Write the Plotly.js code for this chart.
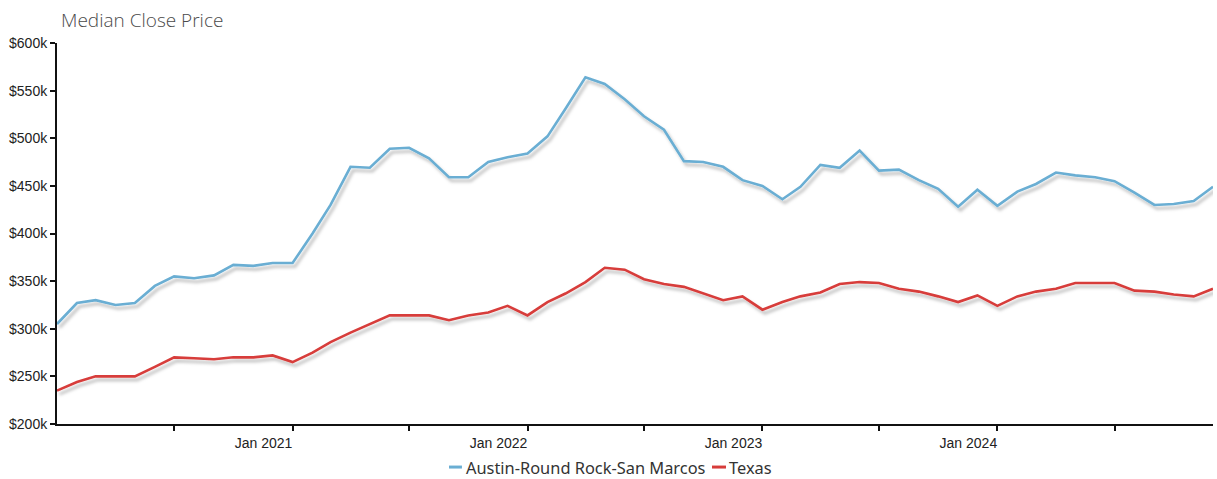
<!DOCTYPE html>
<html>
<head>
<meta charset="utf-8">
<script src="https://cdn.plot.ly/plotly-3.0.1.min.js"></script>
<style>
  html, body { margin: 0; padding: 0; background: #fff; }
  #chart { width: 1217px; height: 479px; }
</style>
</head>
<body>
<svg width="0" height="0" style="position:absolute">
  <defs>
    <!-- soft drop shadow under each price line -->
    <filter id="lineShadow" x="-5%" y="-20%" width="110%" height="140%">
      <feDropShadow dx="2.5" dy="3.5" stdDeviation="1.8" flood-color="#000" flood-opacity="0.26"/>
    </filter>
  </defs>
</svg>
<div id="chart"></div>
<script>
// Monthly dates, Jan 2020 – Dec 2024
const months = [
  "2020-01-01","2020-02-01","2020-03-01","2020-04-01","2020-05-01","2020-06-01",
  "2020-07-01","2020-08-01","2020-09-01","2020-10-01","2020-11-01","2020-12-01",
  "2021-01-01","2021-02-01","2021-03-01","2021-04-01","2021-05-01","2021-06-01",
  "2021-07-01","2021-08-01","2021-09-01","2021-10-01","2021-11-01","2021-12-01",
  "2022-01-01","2022-02-01","2022-03-01","2022-04-01","2022-05-01","2022-06-01",
  "2022-07-01","2022-08-01","2022-09-01","2022-10-01","2022-11-01","2022-12-01",
  "2023-01-01","2023-02-01","2023-03-01","2023-04-01","2023-05-01","2023-06-01",
  "2023-07-01","2023-08-01","2023-09-01","2023-10-01","2023-11-01","2023-12-01",
  "2024-01-01","2024-02-01","2024-03-01","2024-04-01","2024-05-01","2024-06-01",
  "2024-07-01","2024-08-01","2024-09-01","2024-10-01","2024-11-01","2024-12-01"
];

// Median close price, thousands of dollars
const austinPrice = [
  305, 327, 330, 325, 327, 345, 355, 353, 356, 367, 366, 369,
  369, 400, 430, 470, 469, 489, 490, 479, 459, 459, 475, 480,
  484, 502, 531, 564, 557, 541, 523, 509, 476, 475, 470, 456,
  450, 436, 449, 472, 469, 487, 466, 467, 456, 447, 428, 446,
  429, 444, 452, 464, 461, 459, 455, 443, 430, 431, 434, 449
];
const texasPrice = [
  235, 244, 250, 250, 250, 260, 270, 269, 268, 270, 270, 272,
  265, 275, 286, 296, 305, 314, 314, 314, 309, 314, 317, 324,
  314, 328, 337, 349, 364, 362, 352, 347, 344, 337, 330, 334,
  320, 328, 334, 338, 347, 349, 348, 342, 339, 334, 328, 335,
  324, 334, 339, 342, 348, 348, 348, 340, 339, 336, 334, 342
];

const seriesNames = ["Austin-Round Rock-San Marcos", "Texas"];
const seriesColors = ["#6aaed3", "#d73c3a"];

// Half-year ticks, labelled on each January
const tickDates = ["2020-07-01","2021-01-01","2021-07-01","2022-01-01","2022-07-01",
                   "2023-01-01","2023-07-01","2024-01-01","2024-07-01"];
const tickLabels = ["","Jan 2021","","Jan 2022","","Jan 2023","","Jan 2024",""];
const priceTicks = [200, 250, 300, 350, 400, 450, 500, 550, 600];
const priceLabels = ["$200k","$250k","$300k","$350k","$400k","$450k","$500k","$550k","$600k"];

const traces = [austinPrice, texasPrice].map((vals, i) => ({
  type: "scatter",
  mode: "lines",
  name: seriesNames[i],
  x: months,
  y: vals,
  line: { color: seriesColors[i], width: 2.6 },
  showlegend: false,
  hoverinfo: "x+y+name"
}));

// Legend row under the axis: a short colour swatch followed by the series name
const legendY = -0.113;
const legendSwatchX = [[0.3391, 0.3503], [0.5666, 0.5787]];
const legendTextX = [0.3521, 0.5796];
const legendFont = { family: "Noto Sans, Open Sans, sans-serif", size: 16.4, color: "#333" };

const legendShapes = seriesNames.map((_, i) => ({
  type: "line", xref: "paper", yref: "paper",
  x0: legendSwatchX[i][0], x1: legendSwatchX[i][1], y0: legendY, y1: legendY,
  line: { color: seriesColors[i], width: 3 }
}));
const legendLabels = seriesNames.map((name, i) => ({
  xref: "paper", yref: "paper",
  x: legendTextX[i], y: legendY, xanchor: "left", yanchor: "middle",
  text: name, showarrow: false, font: legendFont
}));

const axisFont = { family: "Liberation Sans, Arial, sans-serif", size: 14, color: "#222" };

const layout = {
  width: 1217,
  height: 479,
  paper_bgcolor: "#fff",
  plot_bgcolor: "#fff",
  margin: { l: 57, r: 4, t: 43, b: 55, autoexpand: false },
  title: {
    text: "Median Close Price",
    x: 0, xref: "paper", xanchor: "left",
    y: 0.958, yanchor: "middle",
    pad: { l: 4 },
    font: { family: "Open Sans, Noto Sans, sans-serif", weight: 300, size: 19, color: "#4a4a4a" }
  },
  xaxis: {
    type: "date",
    range: ["2020-01-01", "2024-12-01"],
    showgrid: false,
    zeroline: false,
    showline: true, linecolor: "#111", linewidth: 2,
    ticks: "outside", ticklen: 5, tickwidth: 2, tickcolor: "#111",
    tickmode: "array", tickvals: tickDates, ticktext: tickLabels,
    ticklabelshift: -29,
    tickfont: axisFont
  },
  xaxis2: {
    type: "date",
    overlaying: "x", matches: "x", anchor: "y", side: "bottom",
    showgrid: false, zeroline: false, showline: false,
    ticks: "inside", ticklen: 5, tickwidth: 2, tickcolor: "#111",
    tickmode: "array", tickvals: tickDates, showticklabels: false
  },
  yaxis: {
    range: [200, 600],
    showgrid: false,
    zeroline: false,
    showline: true, linecolor: "#111", linewidth: 2,
    ticks: "outside", ticklen: 5, tickwidth: 2, tickcolor: "#111",
    tickmode: "array", tickvals: priceTicks, ticktext: priceLabels,
    tickfont: axisFont
  },
  yaxis2: {
    overlaying: "y", matches: "y", anchor: "x", side: "left",
    showgrid: false, zeroline: false, showline: false,
    ticks: "inside", ticklen: 3, tickwidth: 2, tickcolor: "#111",
    tickmode: "array", tickvals: priceTicks, showticklabels: false
  },
  showlegend: false,
  shapes: legendShapes,
  annotations: legendLabels,
  hovermode: "closest"
};

// Drop shadow on the plotted price lines
function shadeLines() {
  document.querySelectorAll("#chart .scatterlayer .js-line").forEach(p => {
    p.setAttribute("filter", "url(#lineShadow)");
  });
}

Plotly.newPlot("chart", traces, layout, { displayModeBar: false, staticPlot: true })
  .then(gd => {
    shadeLines();
    gd.on("plotly_afterplot", shadeLines);
  });
</script>
</body>
</html>
